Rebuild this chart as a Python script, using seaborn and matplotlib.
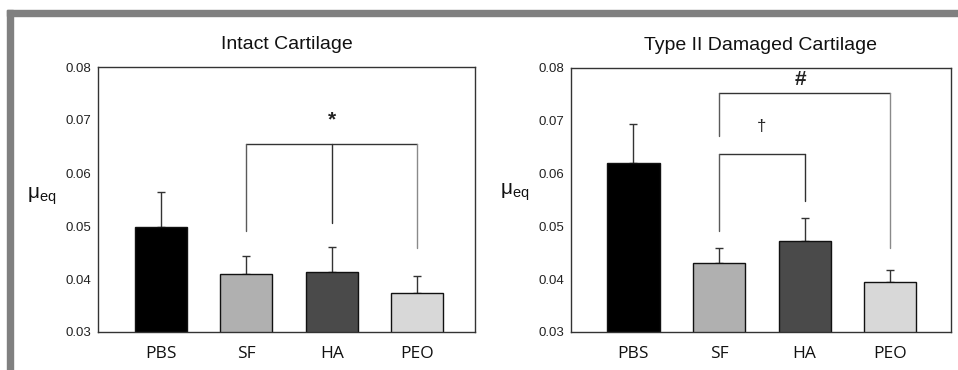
import matplotlib
matplotlib.use("Agg")
import matplotlib.pyplot as plt
import seaborn as sns
import pandas as pd
from matplotlib.patches import Rectangle

# ---- data ----
categories = ["PBS", "SF", "HA", "PEO"]
bar_colors = ["#000000", "#b0b0b0", "#4a4a4a", "#d8d8d8"]

intact_mean = [0.0499, 0.0409, 0.0414, 0.0373]
intact_sd = [0.0066, 0.0034, 0.0046, 0.0033]

damaged_mean = [0.0620, 0.0431, 0.0472, 0.0394]
damaged_sd = [0.0074, 0.0028, 0.0043, 0.0023]

titles = ["Intact Cartilage", "Type II Damaged Cartilage"]
yticks = [0.03, 0.04, 0.05, 0.06, 0.07, 0.08]
ytick_labels = ["0.03", "0.04", "0.05", "0.06", "0.07", "0.08"]

# brackets: (categories spanned, bar height, leg bottoms, symbol, symbol x-index, symbol y)
intact_brackets = [
    (["SF", "HA", "PEO"], 0.0655, [0.0490, 0.0506, 0.0458], "*", 2.0, 0.0700),
]
damaged_brackets = [
    (["SF", "PEO"], 0.0753, [0.0671, 0.0459], "#", 1.95, 0.0778),
    (["SF", "HA"], 0.0638, [0.0491, 0.0549], "\u2020", 1.5, 0.0690),
]
leg_colors = {"SF": "#5a5a5a", "HA": "#303030", "PEO": "#8a8a8a"}

sns.set_style("white")
plt.rcParams["font.family"] = ["Liberation Sans", "DejaVu Sans"]
plt.rcParams["mathtext.default"] = "regular"

fig = plt.figure(figsize=(9.58, 3.70), dpi=100)
fig.patch.set_facecolor("white")

# grey frame
fig.patches.append(Rectangle((7/958, 1 - 16/370), 1 - 7/958, 6/370,
                             transform=fig.transFigure, color="#808080", zorder=0))
fig.patches.append(Rectangle((7/958, 0), 6/958, 1 - 10/370,
                             transform=fig.transFigure, color="#808080", zorder=0))

axes_pos = [
    [98/958, 1 - 332/370, 377/958, 265/370],
    [571/958, 1 - 332/370, 380/958, 264/370],
]
xlims = [(-0.74, 3.68), (-0.73, 3.71)]
label_coords = [(-0.15, 0.47), (-0.147, 0.49)]

datasets = [(intact_mean, intact_sd, intact_brackets),
            (damaged_mean, damaged_sd, damaged_brackets)]

for i, (means, sds, brackets) in enumerate(datasets):
    ax = fig.add_axes(axes_pos[i])
    df = pd.DataFrame({"cat": categories, "val": means})
    sns.barplot(data=df, x="cat", y="val", hue="cat", palette=bar_colors,
                legend=False, width=0.61, edgecolor="#111111", linewidth=1.0,
                ax=ax, zorder=2)
    ax.errorbar(range(len(categories)), means,
                yerr=[[0] * len(sds), sds], fmt="none", ecolor="#333333",
                elinewidth=1.0, capsize=3.0, capthick=1.0, zorder=1)
    ax.set_ylim(0.03, 0.08)
    ax.set_xlim(*xlims[i])
    ax.set_yticks(yticks)
    ax.set_yticklabels(ytick_labels, fontsize=9.5, color="#222222")
    ax.set_xticks(range(len(categories)))
    ax.set_xticklabels(categories, fontsize=12.5, family=["Open Sans", "DejaVu Sans"],
                       color="#111111")
    ax.tick_params(axis="y", direction="out", length=3, width=0.8, color="#333333", pad=2)
    ax.tick_params(axis="x", direction="out", length=2, width=0.8, color="#333333", pad=8)
    for s in ax.spines.values():
        s.set_visible(True)
        s.set_color("#333333")
        s.set_linewidth(1.0)
    ax.set_xlabel("")
    ax.set_ylabel(r"$\mu_{eq}$", rotation=0, fontsize=15, color="#111111")
    ax.yaxis.set_label_coords(*label_coords[i])
    ax.set_title(titles[i], fontsize=14, color="#111111", pad=13)

    for cats, h, bottoms, sym, sx, sy in brackets:
        xs = [categories.index(c) for c in cats]
        ax.plot([xs[0], xs[-1]], [h, h], color="#333333", lw=1.0, zorder=3)
        for c, xpos, b in zip(cats, xs, bottoms):
            ax.plot([xpos, xpos], [b, h], color=leg_colors[c], lw=1.0, zorder=3)
        fs = 12 if sym == "\u2020" else 15
        ax.text(sx, sy, sym, ha="center", va="center", fontsize=fs,
                fontweight="bold" if sym != "\u2020" else "normal",
                color="#222222", zorder=4)

fig.savefig("out.png", dpi=100, facecolor="white")
